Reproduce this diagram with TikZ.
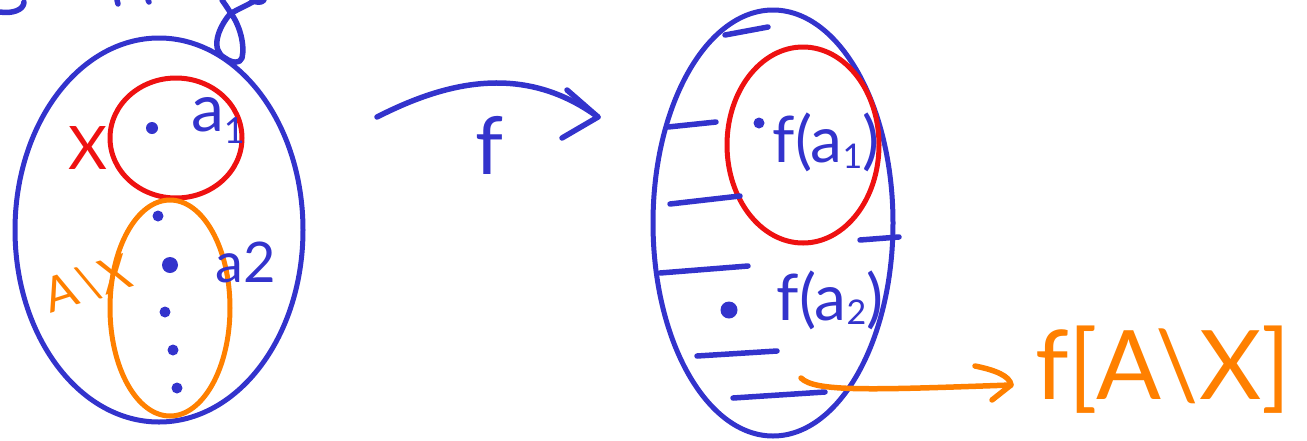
\documentclass[tikz,border=0pt]{standalone}
\usepackage{fontspec}
\setmainfont{Lato}
\usetikzlibrary{shapes.geometric}
\definecolor{pen}{HTML}{3333CC}
\definecolor{pred}{HTML}{EE1111}
\definecolor{porange}{HTML}{FF8000}
\tikzset{
  stroke/.style={line width=5.5pt, line cap=round, line join=round},
  setoval/.style={ellipse, draw, line width=5pt, inner sep=0pt},
  label/.style={inner sep=0pt, anchor=center},
  dotmark/.style={ellipse, fill=pen, inner sep=0pt, minimum width=#1, minimum height=#1},
}
\begin{document}
\begin{tikzpicture}[x=1pt,y=-1pt]
\useasboundingbox (0,0) rectangle (1307,440);
% cut-off strokes at the top
\draw[stroke, pen] (0,12) .. controls (12,14) and (24,10) .. (24,2);
\draw[stroke, pen] (117,0) -- (118,4);
\draw[stroke, pen] (148,0) -- (149,2);
\draw[stroke, pen] (256,0) .. controls (248,5) and (236,10) .. (230,14)
  .. controls (218,28) and (210,50) .. (225,58)
  .. controls (232,63) and (240,64) .. (242,58)
  .. controls (245,45) and (240,25) .. (230,12)
  .. controls (227,7) and (224,3) .. (222,0);
\draw[stroke, pen] (252,0) .. controls (256,3) and (262,3) .. (264,0);

% left sets
\node[setoval, pen, minimum width=288pt, minimum height=384pt] (A) at (159,230) {};
\node[setoval, pred, minimum width=132pt, minimum height=120pt] (X) at (176,138) {};
\node[setoval, porange, minimum width=120pt, minimum height=216pt] (AX) at (170,308) {};
\node[label, pred, font=\fontsize{60}{60}\selectfont] (Xl) at (88,148) {X};
\node[label, porange, font=\fontsize{48}{48}\selectfont, rotate=18] (AXl) at (88,284) {A\kern2pt\textbackslash\kern2pt X};
\node[dotmark=12pt] (d1) at (152,128) {};
\node[label, pen, font=\fontsize{66}{66}\selectfont] (a1) at (218,120) {a\raisebox{-12pt}{\fontsize{36}{36}\selectfont 1}};
\node[dotmark=11pt] (d2) at (158,216) {};
\node[dotmark=16pt] (d3) at (170,265) {};
\node[dotmark=11pt] (d4) at (165,312) {};
\node[dotmark=11pt] (d5) at (173,350) {};
\node[dotmark=11pt] (d6) at (177,388) {};
\node[label, pen, font=\fontsize{56}{56}\selectfont] (a2) at (246,262) {a2};

% arrow f
\coordinate (fs) at (377,117);
\coordinate (fe) at (598,117);
\draw[stroke, pen] (fs) .. controls (440,85) and (520,60) .. (fe);
\draw[stroke, pen] (567,90) -- (fe) -- (562,138);
\node[label, pen, font=\fontsize{80}{80}\selectfont] (fl) at (490,145) {f};

% right sets
\node[setoval, pen, minimum width=240pt, minimum height=426pt] (B) at (773,223) {};
\node[setoval, pred, minimum width=152pt, minimum height=196pt] (FX) at (803,145) {};
% hatching
\draw[stroke, pen] (725,35) -- (768,27);
\draw[stroke, pen] (668,127) -- (716,122);
\draw[stroke, pen] (670,204) -- (740,196);
\draw[stroke, pen] (660,273) -- (748,266);
\draw[stroke, pen] (697,356) -- (777,351);
\draw[stroke, pen] (733,398) -- (825,392);
\draw[stroke, pen] (860,240) -- (899,237);
\node[dotmark=11pt] (e1) at (759,123) {};
\node[label, pen, font=\fontsize{64}{64}\selectfont] (fa1) at (826,142) {f(a\raisebox{-6pt}{\fontsize{34}{34}\selectfont 1})};
\node[dotmark=17pt] (e2) at (729,310) {};
\node[label, pen, font=\fontsize{64}{64}\selectfont] (fa2) at (830,300) {f(a\raisebox{-4pt}{\fontsize{34}{34}\selectfont 2})};

% orange arrow
\coordinate (os) at (801,378);
\coordinate (oe) at (1011,385);
\draw[stroke, porange] (os) .. controls (815,392) and (870,390) .. (oe);
\draw[stroke, porange] (975,366) .. controls (995,370) and (1010,376) .. (oe) -- (992,400);
\node[label, porange, font=\fontsize{96}{96}\selectfont] (img) at (1163,370) {f[A\textbackslash X]};
\end{tikzpicture}
\end{document}
